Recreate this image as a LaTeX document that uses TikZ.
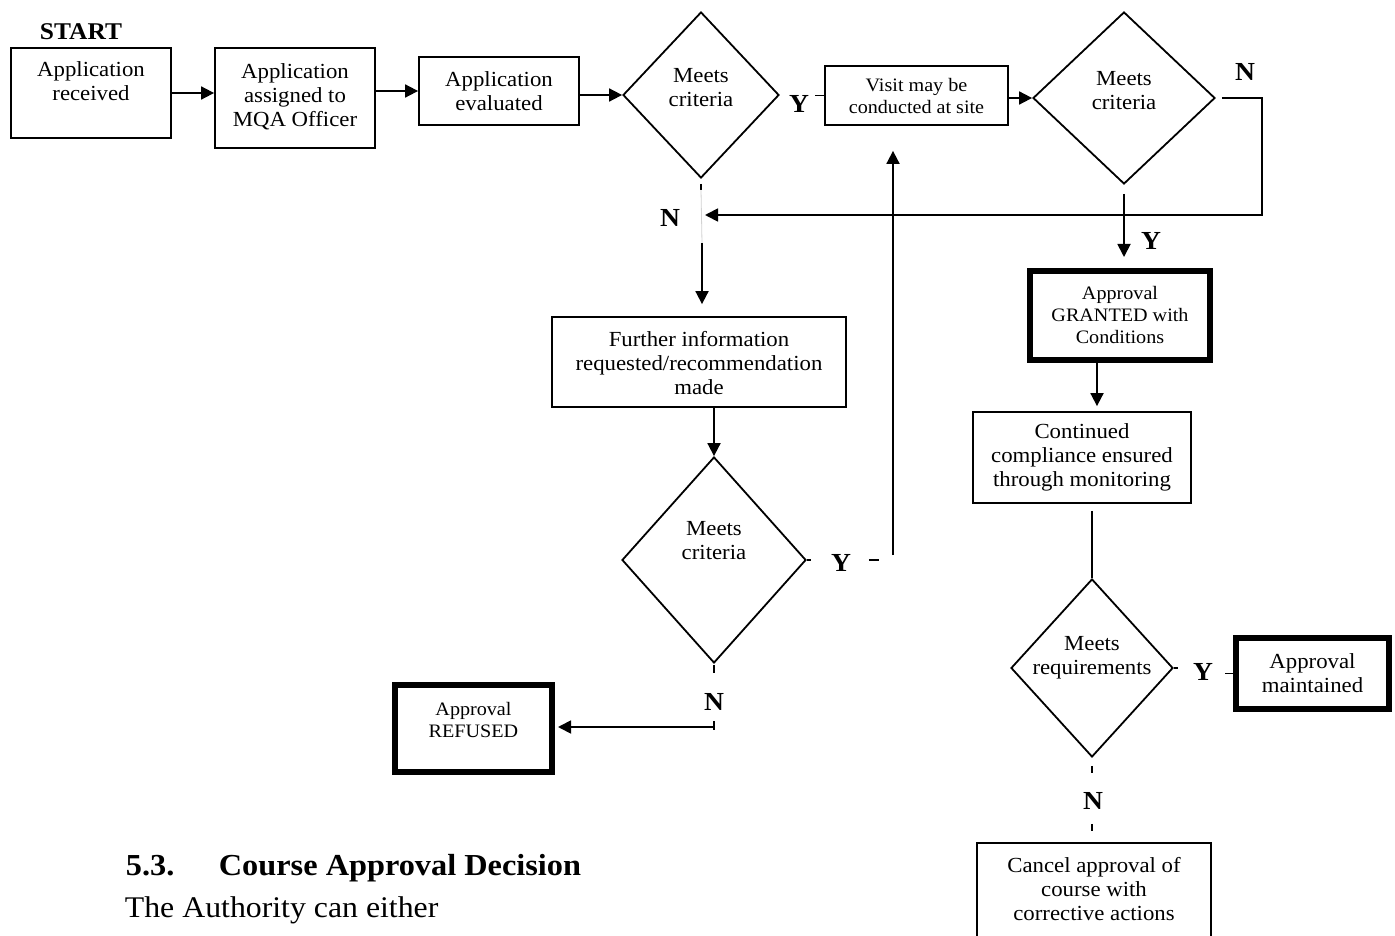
\documentclass[tikz,border=0pt]{standalone}
\usepackage{fontspec}
\setmainfont{Liberation Serif}[FakeStretch=1.06]
\usetikzlibrary{arrows.meta,shapes.geometric}
\begin{document}
\begin{tikzpicture}[x=1pt,y=-1pt,
  line width=1.8pt,
  lbl/.style={font=\fontsize{21.5}{24}\selectfont, align=center, inner sep=0pt},
  slbl/.style={font=\fontsize{19}{22}\selectfont, align=center, inner sep=0pt},
  box/.style={draw, rectangle, inner sep=0pt, lbl},
  sbox/.style={draw, rectangle, inner sep=0pt, slbl},
  heavy/.style={line width=6pt},
  dia/.style={draw, diamond, inner sep=0pt, lbl},
  yn/.style={font=\bfseries\fontsize{26}{26}\selectfont, inner sep=0pt},
  arr/.style={-{Triangle[length=13pt,width=13pt]}},
]
\useasboundingbox (0,0) rectangle (1395,936);
\clip (0,0) rectangle (1395,936);
\fill[white] (0,0) rectangle (1395,936);

% ---- process boxes and decisions ----
\node[font=\bfseries\fontsize{24}{24}\selectfont, inner sep=0pt] (start) at (81,32) {START};

\node[box, minimum width=160, minimum height=90,
  label={[lbl,yshift=9pt]center:\strut Application\\\strut received}] (b1) at (91,93) {};
\node[box, minimum width=160, minimum height=100] (b2) at (295,98)
  {\strut Application\\\strut assigned to\\\strut MQA Officer};
\node[box, minimum width=160, minimum height=68,
  label={[lbl,yshift=-3pt]center:\strut Application\\\strut evaluated}] (b3) at (499,91) {};
\node[dia, minimum width=156, minimum height=166,
  label={[lbl,yshift=5pt]center:\strut Meets\\\strut criteria}] (d1) at (701,95) {};
\node[sbox, minimum width=183, minimum height=59,
  label={[slbl,yshift=-3pt]center:\strut Visit may be\\\strut conducted at site}] (visit) at (916.5,95.5) {};
\node[dia, minimum width=182, minimum height=172,
  label={[lbl,yshift=5pt]center:\strut Meets\\\strut criteria}] (d2) at (1124,98) {};

\node[box, minimum width=294, minimum height=90,
  label={[lbl,yshift=-4pt]center:\strut Further information\\\strut requested/recommendation\\\strut made}] (further) at (699,362) {};
\node[dia, minimum width=184, minimum height=206,
  label={[lbl,yshift=17pt]center:\strut Meets\\\strut criteria}] (d3) at (714,560) {};
\node[sbox, heavy, minimum width=157, minimum height=87,
  label={[slbl,yshift=6pt]center:\strut Approval\\\strut REFUSED}] (refused) at (473.5,728.5) {};

\node[sbox, heavy, minimum width=180, minimum height=89,
  label={[slbl,yshift=-2pt]center:\strut Approval\\\strut GRANTED with\\\strut Conditions}] (granted) at (1120,315.5) {};
\node[box, minimum width=218, minimum height=91] (cont) at (1082,457.5)
  {\strut Continued\\\strut compliance ensured\\\strut through monitoring};
\node[dia, minimum width=162, minimum height=178,
  label={[lbl,yshift=10pt]center:\strut Meets\\\strut requirements}] (d4) at (1092,668) {};
\node[box, heavy, minimum width=153, minimum height=71,
  label={[lbl,yshift=-2pt]center:\strut Approval\\\strut maintained}] (maint) at (1312.5,673.5) {};
\node[box, minimum width=234, minimum height=98] (cancel) at (1094,892)
  {\strut Cancel approval of\\\strut course with\\\strut corrective actions};

% ---- branch letters ----
\node[yn] (y1) at (799,104) {Y};
\node[yn] (n2) at (1245,72) {N};
\node[yn] (n1) at (670,218) {N};
\node[yn] (y2) at (1151,241) {Y};
\node[yn] (y3) at (841,563) {Y};
\node[yn] (n3) at (714,702) {N};
\node[yn] (y4) at (1203,672) {Y};
\node[yn] (n4) at (1093,801) {N};

% ---- section text ----
\node[anchor=base west, font=\bfseries\fontsize{30.5}{36}\selectfont, inner sep=0pt] (secnum) at (125,875) {5.3.};
\node[anchor=base west, font=\bfseries\fontsize{30.5}{36}\selectfont, inner sep=0pt] (sectitle) at (218,875) {Course Approval Decision};
\node[anchor=base west, font=\fontsize{30}{34}\selectfont, inner sep=0pt] (body) at (124,917) {The Authority can either};

% ---- connectors: top row ----
\draw[arr] (b1.east) -- (b1.east -| b2.west);
\draw[arr] (b3.west -| b2.east) -- (b3.west);
\draw[arr] (b3.east |- d1.west) -- (d1.west);
\draw (visit.west) -- ++(-9,0);
\draw[arr] (visit.east |- d2.west) -- (d2.west);

% N from the second decision loops back
\coordinate (nin) at (705,215);
\draw[arr] ([xshift=6pt]d2.east) -- ++(40,0) |- (nin);

% N from the first decision
\coordinate (njoin) at (702,243);
\draw ([yshift=-5pt]d1.south) -- ([yshift=-11pt]d1.south);
\draw[gray!35, line width=0.8pt] ([yshift=-11pt]d1.south) -- (njoin);
\draw[arr, shorten >=12pt] (njoin) -- (njoin |- further.north);
\draw[arr] (further.south -| d3.north) -- (d3.north);

% Y from the third decision goes back up to the site visit
\draw (d3.east) -- ++(4,0);
\draw ([xshift=62pt]d3.east) -- ([xshift=72pt]d3.east);
\coordinate (yup) at (893,555);
\draw[arr, shorten >=25pt] (yup) -- (yup |- visit.south);

% N from the third decision
\coordinate (nref) at (714,727);
\draw ([yshift=-1pt]d3.south) -- ([yshift=-9pt]d3.south);
\draw ([yshift=6pt]nref) -- ([yshift=-3pt]nref);
\draw[arr, shorten >=3pt] (nref) -- (nref -| refused.east);

% Y from the second decision
\draw[arr, shorten >=11pt] ([yshift=-9pt]d2.south) -- (d2.south |- granted.north);
\coordinate (g1) at ([xshift=-23pt]granted.south);
\draw[arr, shorten >=5pt] (g1) -- (g1 |- cont.north);
\coordinate (c1) at ([yshift=-7pt]cont.south);
\draw (c1 -| d4.north) -- (d4.north);

% last decision
\draw (d4.east) -- ++(4,0);
\draw ([xshift=-8pt]maint.west) -- (maint.west);
\draw ([yshift=-8pt]d4.south) -- ([yshift=-15pt]d4.south);
\draw ([yshift=-66pt]d4.south) -- ([yshift=-73pt]d4.south);
\end{tikzpicture}
\end{document}
